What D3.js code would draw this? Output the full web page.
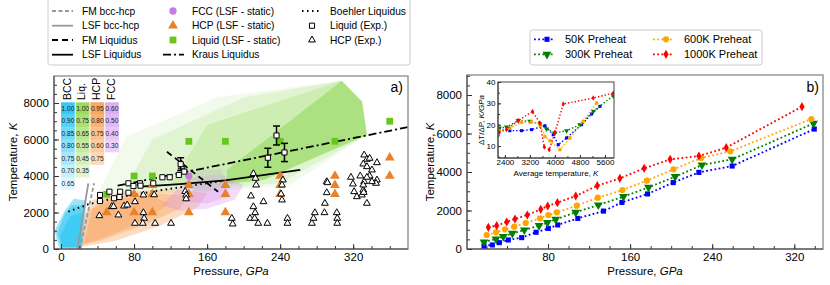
<!DOCTYPE html>
<html>
<head>
<meta charset="utf-8">
<script src="https://cdn.jsdelivr.net/npm/d3@7"></script>
<style>
  body { margin: 0; background: #fff; }
  svg text { font-family: "Liberation Sans", Arial, sans-serif; }
</style>
</head>
<body>
<svg id="chart" width="830" height="285"></svg>
<script>
// ---------- panel a) : phase diagram ----------
// lines, [pressure GPa, temperature K]
var bccHcpFM  = [[20.8, 0], [36.2, 3600]];
var bccHcpLSF = [[17.9, 0], [29.9, 3600]];
var liqFM     = [[116, 5330], [172, 3140]];
var liqLSF    = [[87, 3420], [130, 3560], [180, 3760], [262, 4330]];
var liqBoehler = [[8, 2050], [30, 2450], [60, 2800], [100, 3150], [140, 3450], [180, 3750]];
var liqKraus  = [[62, 3470], [174, 4600], [380, 6680]];

// phase-probability regions (nested layers, outer first)
var bccRegion = [
  [[-7, 1000], [-2, 30], [23, 30], [28, 2650], [14, 2750], [4, 2100]],
  [[-4, 900], [0, 80], [22, 80], [26, 2400], [12, 2400], [4, 1900]],
  [[-1, 700], [2, 100], [21, 100], [24, 2000], [10, 1800]]
];
var hcpRegion = [
  [[20, 100], [22, 1500], [35, 2700], [70, 3150], [120, 3300], [160, 3050], [150, 2300], [110, 1300], [60, 450]],
  [[22, 200], [28, 2000], [50, 2850], [100, 3050], [140, 2950], [130, 2200], [90, 1300], [45, 500]],
  [[25, 300], [35, 2200], [60, 2750], [100, 2850], [120, 2500], [80, 1300], [40, 500]]
];
var fccRegion = [
  [[110, 2400], [140, 3900], [175, 4100], [200, 3500], [190, 2700], [160, 2200], [130, 2100]],
  [[135, 2600], [150, 3600], [180, 3600], [185, 2900], [160, 2500]]
];
var mixRegion = [[140, 3300], [150, 4300], [175, 4400], [182, 3600], [160, 3100]];
var liqRegion = [
  [[40, 3000], [55, 4500], [72, 6150], [170, 8300], [307, 9220], [330, 8070], [335, 6250], [250, 3500], [150, 3100]],
  [[70, 3300], [100, 6000], [200, 8300], [307, 9220], [330, 8070], [335, 6250], [240, 3600], [150, 3300]],
  [[120, 3500], [160, 6800], [307, 9220], [330, 8070], [335, 6250], [222, 3780], [180, 3500]],
  [[181.6, 3600], [181.6, 4330], [307.6, 9220], [329.5, 8070], [335, 6250], [221.7, 3780]]
];
var liqOpacity = [0.1, 0.14, 0.2, 0.42];

// LSF static points
var fccStatic = [[140, 4000]];
var hcpStatic = [[50, 2000], [80, 2000], [80, 3000], [100, 2000], [100, 3000], [100, 3500],
  [140, 2000], [140, 3000], [140, 3500], [180, 2000], [180, 3000], [180, 3500],
  [240, 3000], [240, 3500], [240, 4000], [300, 3000], [300, 3500], [300, 4000], [360, 4000], [360, 5000]];
var liqStatic = [[50, 3000], [80, 4000], [100, 4000], [140, 5900], [180, 5900], [240, 5900], [300, 5900], [360, 7000]];

// experiments
var liqExp = [[42.7, 2960], [42.7, 2630], [53, 3140], [58, 2780], [64.7, 3140], [64, 2850], [73.8, 3085],
  [73.8, 3600], [79.3, 3450], [86.6, 3600], [87, 3470], [101, 3600], [111, 3930], [119, 3930], [129, 4055], [135, 4240]];
var liqExpErr = [[131, 4650, 350], [226.5, 5000, 520], [236, 6220, 520], [244.7, 5290, 500]];
var hcpExp = [[42, 1825], [55.5, 2318], [57.5, 2330], [62.8, 1863], [69, 2356], [72.5, 2410], [81, 2592], [81, 1408],
  [90.2, 1989], [91, 1682], [89.5, 1408], [103, 1408], [120.5, 1408], [90.2, 2959], [102, 2970], [136, 3150],
  [137, 2950], [137, 2750], [132, 4500], [132, 4650],
  [210.7, 4130], [213, 3874], [213.7, 3507], [243, 3781], [242, 3507], [291, 3690], [317.5, 3929], [327.7, 4000],
  [332, 5150], [335, 4915], [338, 4970], [346, 4729], [331, 4658], [335, 4510], [340.5, 4329], [338, 4000],
  [346, 3781], [332, 3690], [208, 2904], [210.7, 2318], [221.7, 2592], [212.6, 1989], [207, 1682], [212, 1682],
  [187, 1682], [188, 1370], [216, 1408], [226, 1408], [241, 3014], [242, 2685], [248, 1682], [248, 1408],
  [274.7, 1408], [276.5, 1682], [278, 1989], [288.5, 1989], [289, 2504], [291, 3085], [291.8, 3633], [302, 1989],
  [302.5, 1682], [302.5, 1408], [319.7, 3562], [324, 2866], [321, 3142], [329.5, 2959], [331, 3233], [335, 2504],
  [345, 3600], [335, 3929], [340.5, 3690], [331, 3507], [331.5, 3100]];

// phase-fraction table
var tableCols = ["BCC", "Liq.", "HCP", "FCC"];
var bccVals = ["1.00", "0.90", "0.85", "0.80", "0.75", "0.70", "0.65"];
var liqVals = ["1.00", "0.75", "0.65", "0.55", "0.45", "0.35"];
var hcpVals = ["0.95", "0.80", "0.75", "0.60", "0.75"];
var fccVals = ["0.60", "0.50", "0.40", "0.30"];

// ---------- panel b) : shock compression ----------
var seriesNames = ["50K Preheat", "300K Preheat", "600K Preheat", "1000K Preheat"];
var p50   = [17.6, 25.7, 32.5, 41.3, 54.3, 68.3, 80.3, 89.4, 109, 134, 152, 177, 202, 227, 259.5, 339.5];
var t50   = [160, 210, 330, 470, 590, 870, 1070, 1250, 1590, 1970, 2420, 2860, 3450, 3980, 4310, 6230];
var p300  = [17.6, 29.3, 36.4, 45.2, 56.9, 71.2, 79.4, 87.5, 107, 129, 153.5, 177.9, 203.9, 230, 259.5, 338.8];
var t300  = [364, 520, 641, 814, 987, 1212, 1368, 1541, 1905, 2286, 2719, 3203, 3758, 4364, 4658, 6528];
var p600  = [20.2, 29.3, 38, 47.1, 58.2, 72.2, 80.3, 88.5, 108, 128.5, 152.5, 176.3, 202.3, 229.3, 257.6, 336.6];
var t600  = [727, 866, 1022, 1160, 1350, 1593, 1766, 1905, 2251, 2667, 3065, 3550, 4139, 4727, 5074, 6753];
var p1000 = [21.8, 29.9, 39.7, 47.8, 59.8, 72.9, 79.7, 89.1, 107, 128, 150, 173.7, 199, 227, 253.7, 327.5];
var t1000 = [1126, 1212, 1403, 1558, 1766, 2061, 2234, 2407, 2753, 3290, 3671, 4190, 4658, 4831, 5264, 7394];

// inset: slope vs average temperature
var iT50   = [2219, 2560, 2933, 3253, 3680, 3947, 4107, 4373, 4853, 5173, 5440];
var iS50   = [18, 17.2, 17.2, 17.7, 19.5, 15.3, 10.6, 13.8, 20, 25, 28.6];
var iT300  = [2219, 2453, 2827, 3200, 3520, 3733, 4000, 4373, 4800, 5227, 5867];
var iS300  = [18.4, 18.9, 21.9, 21.6, 20.3, 18, 16.1, 17.2, 20, 26.3, 33.6];
var iT600  = [2219, 2560, 2933, 3253, 3520, 3680, 3840, 4160, 4480, 4907, 5333];
var iS600  = [17.2, 18.4, 21.1, 21.3, 20, 14.5, 12.5, 8.3, 13.8, 21.6, 30.2];
var iT1000 = [2219, 2453, 2827, 3285, 3520, 3659, 3819, 4000, 4267, 5227, 5867];
var iS1000 = [16.4, 17.7, 22, 26.2, 20.8, 9.5, 8.3, 16.4, 29.7, 32.5, 34.8];

var xTicksA = [0, 80, 160, 240, 320];
var yTicks = [0, 2000, 4000, 6000, 8000];
var xTicksB = [80, 160, 240, 320];
var xTicksI = [2400, 3200, 4000, 4800, 5600];
var yTicksI = [10, 20, 30, 40];

// ------------------------------------------------------------
var svg = d3.select("#chart");

var xA = d3.scaleLinear().domain([-7.7, 380]).range([54, 408]);
var yA = d3.scaleLinear().domain([0, 9480]).range([249, 76]);
var xB = d3.scaleLinear().domain([1, 348]).range([467, 823]);
var yB = d3.scaleLinear().domain([0, 9040]).range([249, 75]);
var xI = d3.scaleLinear().domain([2180, 5890]).range([498, 614]);
var yI = d3.scaleLinear().domain([4.4, 40]).range([158, 82]);

function clip(id, x, y) {
  svg.append("clipPath").attr("id", id).append("rect")
    .attr("x", x.range()[0]).attr("y", y.range()[1])
    .attr("width", x.range()[1] - x.range()[0]).attr("height", y.range()[0] - y.range()[1]);
}
clip("clipA", xA, yA);
clip("clipB", xB, yB);
clip("clipI", xI, yI);

function axes(x, y, o) {
  var g = svg.append("g");
  var yb = y.range()[0], xl = x.range()[0];
  g.append("rect").attr("x", xl).attr("y", y.range()[1])
    .attr("width", x.range()[1] - xl).attr("height", yb - y.range()[1])
    .attr("fill", "none").attr("stroke", o.frame).attr("stroke-width", o.fw);
  g.append("g").attr("class", "ax").attr("transform", "translate(0," + yb + ")")
    .call(d3.axisBottom(x).tickValues(o.xMinor).tickSize(-o.minor).tickFormat(""));
  g.append("g").attr("class", "ax").attr("transform", "translate(0," + yb + ")")
    .call(d3.axisBottom(x).tickValues(o.xMajor).tickSize(-o.major).tickPadding(o.pad).tickFormat(d3.format("d")));
  g.append("g").attr("class", "ax").attr("transform", "translate(" + xl + ",0)")
    .call(d3.axisLeft(y).tickValues(o.yMinor).tickSize(-o.minor).tickFormat(""));
  g.append("g").attr("class", "ax").attr("transform", "translate(" + xl + ",0)")
    .call(d3.axisLeft(y).tickValues(o.yMajor).tickSize(-o.major).tickPadding(o.pad + 1).tickFormat(d3.format("d")));
  g.selectAll(".domain").remove();
  g.selectAll(".ax line").attr("stroke", "#333");
  g.selectAll(".ax text").style("font-size", o.fs + "px").attr("fill", "#000");
  g.append("line").attr("x1", xl).attr("x2", xl).attr("y1", y.range()[1]).attr("y2", yb).attr("stroke", "#444");
  g.append("line").attr("x1", xl).attr("x2", x.range()[1]).attr("y1", yb).attr("y2", yb).attr("stroke", "#444");
  return g;
}

var lineA = d3.line().x(function (d) { return xA(d[0]); }).y(function (d) { return yA(d[1]); });
var polyA = d3.line().x(function (d) { return xA(d[0]); }).y(function (d) { return yA(d[1]); }).curve(d3.curveLinearClosed);

// ---------- panel a ----------
var pa = svg.append("g").attr("clip-path", "url(#clipA)");

function regions(layers, color, op) {
  pa.selectAll(null).data(layers).enter().append("path")
    .attr("d", polyA).attr("fill", color)
    .attr("fill-opacity", function (d, i) { return Array.isArray(op) ? op[i] : op; })
    .attr("stroke", "none");
}
regions(liqRegion, "#7fd13b", liqOpacity);
regions(hcpRegion, "#f59a50", 0.34);
regions(fccRegion, "#d68ff0", 0.3);
regions(bccRegion, "#10bff0", 0.42);
pa.append("path").datum(mixRegion).attr("d", polyA).attr("fill", "#c8c8c8").attr("fill-opacity", 0.45);

var styles = {
  fmBcc:  { stroke: "#999", dash: "4,2.5", w: 1.8 },
  lsfBcc: { stroke: "#999", dash: null, w: 1.8 },
  fmLiq:  { stroke: "#000", dash: "6,4", w: 1.8 },
  lsfLiq: { stroke: "#000", dash: null, w: 1.8 },
  boeh:   { stroke: "#000", dash: "1.5,3.5", w: 2 },
  kraus:  { stroke: "#000", dash: "8,3,2,3", w: 1.8 }
};
function styled(sel, s) {
  sel.attr("fill", "none").attr("stroke", s.stroke).attr("stroke-width", s.w)
    .attr("stroke-dasharray", s.dash);
  return sel;
}
styled(pa.append("path").datum(bccHcpLSF).attr("d", lineA), styles.lsfBcc);
styled(pa.append("path").datum(bccHcpFM).attr("d", lineA), styles.fmBcc);
styled(pa.append("path").datum(liqBoehler).attr("d", lineA), styles.boeh);
styled(pa.append("path").datum(liqLSF).attr("d", lineA), styles.lsfLiq);
styled(pa.append("path").datum(liqKraus).attr("d", lineA), styles.kraus);
styled(pa.append("path").datum(liqFM).attr("d", lineA), styles.fmLiq);

var sqBig = d3.symbol(d3.symbolSquare, 46)();
var triBig = d3.symbol(d3.symbolTriangle, 42)();
var circBig = d3.symbol(d3.symbolCircle, 42)();
var sqOpen = d3.symbol(d3.symbolSquare, 26)();
var triOpen = d3.symbol(d3.symbolTriangle, 20)();

function pts(data, path, fill, stroke, sw) {
  pa.selectAll(null).data(data).enter().append("path")
    .attr("d", path)
    .attr("transform", function (d) { return "translate(" + xA(d[0]) + "," + yA(d[1]) + ")"; })
    .attr("fill", fill).attr("stroke", stroke).attr("stroke-width", sw || 0);
}
pts(liqStatic, sqBig, "#66c61c", "none");
pts(hcpStatic, triBig, "#e8822a", "none");
pts(fccStatic, circBig, "#c77ce0", "none");
pts(hcpExp, triOpen, "#fff", "#000", 1);

var eb = pa.selectAll(null).data(liqExpErr).enter().append("g").attr("stroke", "#000").attr("stroke-width", 1.5);
eb.append("line").attr("x1", function (d) { return xA(d[0]); }).attr("x2", function (d) { return xA(d[0]); })
  .attr("y1", function (d) { return yA(d[1] - d[2]); }).attr("y2", function (d) { return yA(d[1] + d[2]); });
eb.append("line").attr("x1", function (d) { return xA(d[0]) - 3.5; }).attr("x2", function (d) { return xA(d[0]) + 3.5; })
  .attr("y1", function (d) { return yA(d[1] - d[2]); }).attr("y2", function (d) { return yA(d[1] - d[2]); });
eb.append("line").attr("x1", function (d) { return xA(d[0]) - 3.5; }).attr("x2", function (d) { return xA(d[0]) + 3.5; })
  .attr("y1", function (d) { return yA(d[1] + d[2]); }).attr("y2", function (d) { return yA(d[1] + d[2]); });
pts(liqExpErr, sqOpen, "#fff", "#000", 1);
pts(liqExp, sqOpen, "#fff", "#000", 1);

axes(xA, yA, {
  xMajor: xTicksA, xMinor: d3.range(0, 380, 20), yMajor: yTicks, yMinor: d3.range(0, 9480, 500),
  major: 5, minor: 3, pad: 4, fs: 11.5, frame: "#999", fw: 1.5
});

// phase fraction table
var tCols = [bccVals, liqVals, hcpVals, fccVals];
var tColors = ["#1cc3f2", "#8fd64a", "#f79a4a", "#d9a2f2"];
var tab = svg.append("g");
tCols.forEach(function (vals, c) {
  var x0 = 61 + c * 14.7;
  tab.selectAll(null).data(vals).enter().append("rect")
    .attr("x", x0).attr("y", function (d, i) { return 102.3 + i * 12.5; })
    .attr("width", 13.8).attr("height", 12.5)
    .attr("fill", tColors[c]).attr("fill-opacity", function (d, i) { return 0.88 - i * 0.125; });
  tab.selectAll(null).data(vals).enter().append("text")
    .attr("x", x0 + 6.9).attr("y", function (d, i) { return 102.3 + i * 12.5 + 8.6; })
    .attr("text-anchor", "middle").style("font-size", "6.6px").attr("fill", "#222").text(function (d) { return d; });
  tab.append("text").attr("transform", "translate(" + (x0 + 6.9 + 2.6) + ",100) rotate(-90)")
    .style("font-size", "10.5px").attr("fill", "#000").text(tableCols[c]);
});

svg.append("text").attr("x", 403).attr("y", 92).attr("text-anchor", "end").style("font-size", "14px").text("a)");

// axis titles a
svg.append("text").attr("transform", "translate(17,162) rotate(-90)").attr("text-anchor", "middle")
  .style("font-size", "11.5px").html('Temperature, <tspan font-style="italic">K</tspan>');
svg.append("text").attr("x", 231).attr("y", 275).attr("text-anchor", "middle")
  .style("font-size", "11.5px").html('Pressure, <tspan font-style="italic">GPa</tspan>');

// legend a
var lg = svg.append("g");
lg.append("rect").attr("x", 48).attr("y", -3).attr("width", 362).attr("height", 68).attr("rx", 2.5)
  .attr("fill", "#fff").attr("fill-opacity", 0.85).attr("stroke", "#ccc");
var legLines = [
  { label: "FM bcc-hcp", s: styles.fmBcc }, { label: "LSF bcc-hcp", s: styles.lsfBcc },
  { label: "FM Liquidus", s: styles.fmLiq }, { label: "LSF Liquidus", s: styles.lsfLiq }
];
var rowY = [11, 25.7, 40, 54.7];
legLines.forEach(function (e, i) {
  styled(lg.append("line").attr("x1", 52).attr("x2", 73).attr("y1", rowY[i]).attr("y2", rowY[i]), e.s);
  lg.append("text").attr("x", 82).attr("y", rowY[i] + 3.6).style("font-size", "10.2px").text(e.label);
});
var legMarks = [
  { label: "FCC (LSF - static)", p: circBig, f: "#c77ce0" },
  { label: "HCP (LSF - static)", p: triBig, f: "#e8822a" },
  { label: "Liquid (LSF - static)", p: sqBig, f: "#66c61c" }
];
legMarks.forEach(function (e, i) {
  lg.append("path").attr("d", e.p).attr("transform", "translate(173," + rowY[i] + ")").attr("fill", e.f);
  lg.append("text").attr("x", 192).attr("y", rowY[i] + 3.6).style("font-size", "10.2px").text(e.label);
});
styled(lg.append("line").attr("x1", 163).attr("x2", 184).attr("y1", rowY[3]).attr("y2", rowY[3]), styles.kraus);
lg.append("text").attr("x", 192).attr("y", rowY[3] + 3.6).style("font-size", "10.2px").text("Kraus Liquidus");
styled(lg.append("line").attr("x1", 302).attr("x2", 321).attr("y1", rowY[0]).attr("y2", rowY[0]), styles.boeh);
lg.append("text").attr("x", 330).attr("y", rowY[0] + 3.6).style("font-size", "10.2px").text("Boehler Liquidus");
lg.append("path").attr("d", sqOpen).attr("transform", "translate(312," + rowY[1] + ")").attr("fill", "#fff").attr("stroke", "#000");
lg.append("text").attr("x", 330).attr("y", rowY[1] + 3.6).style("font-size", "10.2px").text("Liquid (Exp.)");
lg.append("path").attr("d", triOpen).attr("transform", "translate(312," + rowY[2] + ")").attr("fill", "#fff").attr("stroke", "#000");
lg.append("text").attr("x", 330).attr("y", rowY[2] + 3.6).style("font-size", "10.2px").text("HCP (Exp.)");

// ---------- panel b ----------
var thinDiamond = function (s) { return "M0," + (-4.6 * s) + "L" + (2.6 * s) + ",0L0," + (4.6 * s) + "L" + (-2.6 * s) + ",0Z"; };
var mk = [
  function (s) { return d3.symbol(d3.symbolSquare, 26 * s * s)(); },
  function (s) { return d3.symbol(d3.symbolTriangle, 34 * s * s)(); },
  function (s) { return d3.symbol(d3.symbolCircle, 30 * s * s)(); },
  thinDiamond
];
var rot = [0, 180, 0, 0];
var colors = ["#0000ff", "#008000", "#ffa500", "#ff0000"];
var mainP = [p50, p300, p600, p1000], mainT = [t50, t300, t600, t1000];
var insT = [iT50, iT300, iT600, iT1000], insS = [iS50, iS300, iS600, iS1000];

axes(xB, yB, {
  xMajor: xTicksB, xMinor: d3.range(20, 348, 20), yMajor: yTicks, yMinor: d3.range(0, 9040, 500),
  major: 5, minor: 3, pad: 4, fs: 11.5, frame: "#999", fw: 1.5
});
var pb = svg.append("g").attr("clip-path", "url(#clipB)");
var lineB = d3.line().x(function (d) { return xB(d[0]); }).y(function (d) { return yB(d[1]); });
mainP.forEach(function (ps, k) {
  var data = ps.map(function (p, i) { return [p, mainT[k][i]]; });
  pb.append("path").datum(data).attr("d", lineB).attr("fill", "none")
    .attr("stroke", colors[k]).attr("stroke-width", 1.8).attr("stroke-dasharray", "1.8,2.4");
  pb.selectAll(null).data(data).enter().append("path").attr("d", mk[k](1))
    .attr("transform", function (d) { return "translate(" + xB(d[0]) + "," + yB(d[1]) + ") rotate(" + rot[k] + ")"; })
    .attr("fill", colors[k]);
});
svg.append("text").attr("x", 819).attr("y", 92).attr("text-anchor", "end").style("font-size", "14px").text("b)");
svg.append("text").attr("transform", "translate(434,162) rotate(-90)").attr("text-anchor", "middle")
  .style("font-size", "11.5px").html('Temperature, <tspan font-style="italic">K</tspan>');
svg.append("text").attr("x", 645).attr("y", 275).attr("text-anchor", "middle")
  .style("font-size", "11.5px").html('Pressure, <tspan font-style="italic">GPa</tspan>');

// inset
svg.append("rect").attr("x", 498).attr("y", 82).attr("width", 116).attr("height", 76).attr("fill", "#fff");
var pi = svg.append("g").attr("clip-path", "url(#clipI)");
var lineI = d3.line().x(function (d) { return xI(d[0]); }).y(function (d) { return yI(d[1]); });
insT.forEach(function (ts, k) {
  var data = ts.map(function (t, i) { return [t, insS[k][i]]; });
  pi.append("path").datum(data).attr("d", lineI).attr("fill", "none")
    .attr("stroke", colors[k]).attr("stroke-width", 1.4).attr("stroke-dasharray", "1.4,2");
  pi.selectAll(null).data(data).enter().append("path").attr("d", mk[k](0.6))
    .attr("transform", function (d) { return "translate(" + xI(d[0]) + "," + yI(d[1]) + ") rotate(" + rot[k] + ")"; })
    .attr("fill", colors[k]);
});
axes(xI, yI, {
  xMajor: xTicksI, xMinor: d3.range(2400, 5890, 400), yMajor: yTicksI, yMinor: d3.range(5, 40, 5),
  major: 3, minor: 2, pad: 1.5, fs: 8, frame: "#444", fw: 1
});
svg.append("text").attr("transform", "translate(484,120) rotate(-90)").attr("text-anchor", "middle")
  .style("font-size", "8px").html('ΔT/ΔP, <tspan font-style="italic">K/GPa</tspan>');
svg.append("text").attr("x", 556).attr("y", 176).attr("text-anchor", "middle")
  .style("font-size", "8px").html('Average temperature, <tspan font-style="italic">K</tspan>');

// legend b
var lb = svg.append("g");
lb.append("rect").attr("x", 530).attr("y", 30).attr("width", 232).attr("height", 35).attr("rx", 2.5)
  .attr("fill", "#fff").attr("stroke", "#ccc");
var legPos = [[534, 39.3], [534, 54.3], [653, 39.3], [653, 54.3]];
seriesNames.forEach(function (name, k) {
  var x0 = legPos[k][0], y0 = legPos[k][1];
  lb.append("line").attr("x1", x0).attr("x2", x0 + 21).attr("y1", y0).attr("y2", y0)
    .attr("stroke", colors[k]).attr("stroke-width", 1.8).attr("stroke-dasharray", "1.8,2.4");
  lb.append("path").attr("d", mk[k](1)).attr("transform", "translate(" + (x0 + 13) + "," + y0 + ") rotate(" + rot[k] + ")")
    .attr("fill", colors[k]);
  lb.append("text").attr("x", x0 + 31).attr("y", y0 + 4).style("font-size", "11px").text(name);
});
</script>
</body>
</html>
